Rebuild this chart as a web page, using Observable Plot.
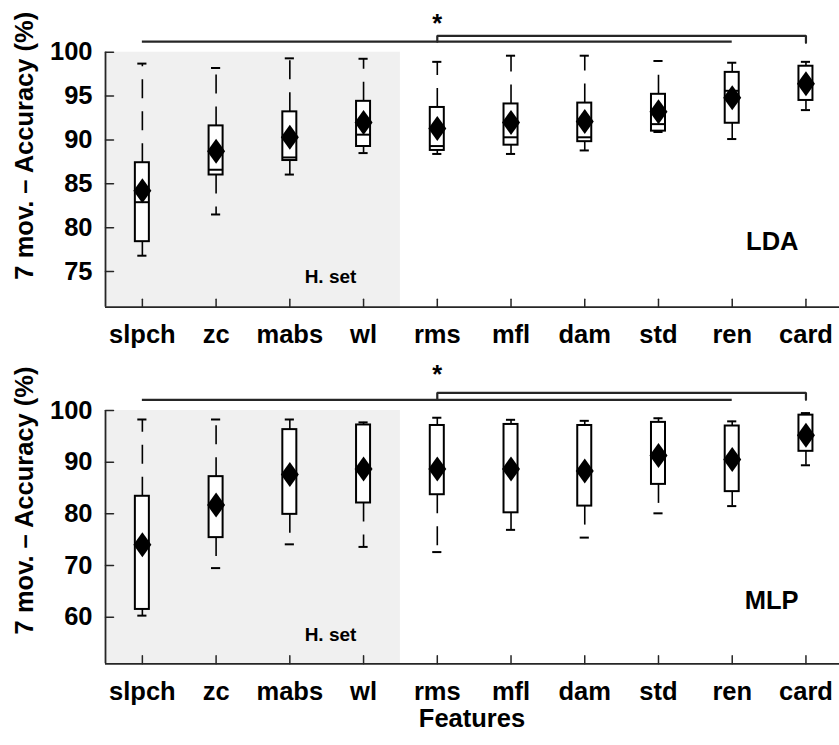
<!DOCTYPE html>
<html>
<head>
<meta charset="utf-8">
<script src="https://cdn.jsdelivr.net/npm/d3@7"></script>
<script src="https://cdn.jsdelivr.net/npm/@observablehq/plot@0.6"></script>
<style>
  html, body { margin: 0; padding: 0; background: #fff; overflow: hidden; }
  #wrap { position: relative; width: 839px; height: 745px; font-family: "Liberation Sans", Arial, sans-serif; }
  #top { position: absolute; left: 0; top: 0; }
  #bot { position: absolute; left: 0; top: 350px; }
  #xlabel { position: absolute; left: 105px; width: 734px; top: 706px; text-align: center;
            font-weight: bold; font-size: 25.5px; line-height: 24px; color: #000; }
</style>
</head>
<body>
<div id="wrap">
  <div id="top"></div>
  <div id="bot"></div>
  <div id="xlabel">Features</div>
</div>
<script>
// ---------- data ----------
const features = ["slpch", "zc", "mabs", "wl", "rms", "mfl", "dam", "std", "ren", "card"];
const handcraftedSet = ["slpch", "zc", "mabs", "wl"];

// LDA
const ldaLow    = [76.8, 81.5, 86.05, 88.5, 88.4, 88.4, 88.8, 90.9, 90.1, 93.4];
const ldaQ1     = [78.4, 86.0, 87.65, 89.25, 88.8, 89.4, 89.8, 91.0, 91.9, 94.5];
const ldaMedian = [82.9, 86.6, 88.0, 90.6, 89.3, 90.3, 90.3, 91.8, 95.6, 96.4];
const ldaQ3     = [87.4, 91.6, 93.2, 94.4, 93.7, 94.1, 94.2, 95.2, 97.7, 98.4];
const ldaHigh   = [98.7, 98.2, 99.3, 99.25, 98.9, 99.6, 99.6, 99.0, 98.8, 98.9];
const ldaMean   = [84.2, 88.7, 90.3, 92.0, 91.3, 92.0, 92.1, 93.2, 94.8, 96.4];
const ldaTicks  = [75, 80, 85, 90, 95, 100];

// MLP
const mlpLow    = [60.3, 69.5, 74.1, 73.6, 72.6, 76.9, 75.4, 80.1, 81.5, 89.4];
const mlpQ1     = [61.5, 75.4, 79.9, 82.1, 83.7, 80.2, 81.5, 85.7, 84.3, 92.1];
const mlpMedian = [73.8, 81.6, 87.5, 88.6, 88.6, 88.6, 88.2, 91.2, 90.4, 95.1];
const mlpQ3     = [83.4, 87.2, 96.3, 97.2, 97.1, 97.3, 97.1, 97.7, 97.0, 99.1];
const mlpHigh   = [98.26, 98.26, 98.26, 97.7, 98.6, 98.2, 98.0, 98.5, 97.9, 99.5];
const mlpMean   = [74.0, 81.7, 87.6, 88.7, 88.7, 88.7, 88.3, 91.3, 90.5, 95.2];
const mlpTicks  = [60, 70, 80, 90, 100];

// significance annotation: long line slpch→ren, bracket rms→card
const sigLine = ["slpch", "ren"];
const sigBracket = ["rms", "card"];
const ldaSigLevels = [101.2, 101.87, 101.07];   // long line, bracket top, bracket end
const mlpSigLevels = [102.07, 103.43, 102.07];

const yTitle = "7 mov. \u2013 Accuracy (%)";

// ---------- drawing ----------
const idx = f => features.indexOf(f) + 1;
const BOX = 0.095, CAP = 0.062;
const AX = "#262626";
const FS = 25.5;
const diamond = { draw(c) { c.moveTo(0, -12.5); c.lineTo(9, 0); c.lineTo(0, 12.5); c.lineTo(-9, 0); c.closePath(); } };
const tickShape = { draw(c, l) { c.moveTo(0, 0); c.lineTo(0, -l); } };

function panel(o) {
  const data = features.map((f, i) => ({
    f, i: i + 1, low: o.low[i], q1: o.q1[i], med: o.med[i], q3: o.q3[i], high: o.high[i], mean: o.mean[i]
  }));
  const [y0] = o.yDomain;
  const [lvLong, lvBr, lvEnd] = o.sig;
  const txt = { fontSize: FS, fontWeight: "bold", fill: "#000" };
  return Plot.plot({
    width: 839, height: o.height,
    marginLeft: 105, marginRight: 0, marginTop: o.marginTop, marginBottom: o.marginBottom,
    x: { type: "linear", domain: [0.5, 10.455] },
    y: { domain: o.yDomain },
    style: { fontFamily: "'Liberation Sans', Arial, sans-serif", fontSize: FS + "px", fontWeight: "bold", background: "transparent", overflow: "visible" },
    marks: [
      Plot.rect([0], { x1: idx(handcraftedSet[0]) - 0.5, x2: idx(handcraftedSet[handcraftedSet.length - 1]) + 0.5, y1: y0, y2: 100, fill: "#f0f0f0" }),
      Plot.text(["H. set"], { frameAnchor: "bottom-left", dx: 225, dy: o.hsetDy, fontSize: 19, fontWeight: "bold", textAnchor: "middle", lineAnchor: "bottom", fill: "#000" }),
      // whiskers
      Plot.ruleX(data, { x: "i", y1: "q3", y2: "high", stroke: "#000", strokeWidth: 1.6, strokeDasharray: "19,13" }),
      Plot.ruleX(data, { x: "i", y1: "q1", y2: "low", stroke: "#000", strokeWidth: 1.6, strokeDasharray: "19,13" }),
      Plot.ruleY(data, { y: "high", x1: d => d.i - CAP, x2: d => d.i + CAP, stroke: "#000", strokeWidth: 2 }),
      Plot.ruleY(data, { y: "low", x1: d => d.i - CAP, x2: d => d.i + CAP, stroke: "#000", strokeWidth: 2 }),
      // boxes
      Plot.rect(data, { x1: d => d.i - BOX, x2: d => d.i + BOX, y1: "q1", y2: "q3", fill: "#fff", stroke: "#000", strokeWidth: 2 }),
      Plot.ruleY(data, { y: "med", x1: d => d.i - BOX, x2: d => d.i + BOX, stroke: "#000", strokeWidth: 2 }),
      Plot.dot(data, { x: "i", y: "mean", symbol: diamond, fill: "#000", stroke: "none" }),
      // axes lines
      Plot.ruleX([0.5], { stroke: AX, strokeWidth: 1.8 }),
      Plot.ruleY([y0], { stroke: AX, strokeWidth: 1.8 }),
      Plot.vector(o.ticks, { y: d => d, frameAnchor: "left", length: 8, rotate: 90, anchor: "start", shape: tickShape, stroke: AX, strokeWidth: 1.5 }),
      Plot.vector(d3.range(1, 11), { x: d => d, frameAnchor: "bottom", length: 8, rotate: 0, anchor: "start", shape: tickShape, stroke: AX, strokeWidth: 1.5 }),
      Plot.axisY({ ticks: o.ticks, tickSize: 0, tickPadding: 13, label: null, ...txt }),
      Plot.axisX({ ticks: d3.range(1, 11), tickSize: 0, tickPadding: 18, label: null, tickFormat: i => features[i - 1], ...txt }),
      Plot.text([yTitle], { frameAnchor: "left", dx: -81, dy: o.titleDy, rotate: -90, textAnchor: "middle", ...txt }),
      Plot.text([o.name], { frameAnchor: "bottom-right", dx: -41, dy: o.nameDy, textAnchor: "end", lineAnchor: "bottom", letterSpacing: "-2px", ...txt }),
      // significance
      Plot.ruleY([lvLong], { x1: idx(sigLine[0]), x2: idx(sigLine[1]), stroke: AX, strokeWidth: 2.2 }),
      Plot.line([[idx(sigBracket[0]), lvLong], [idx(sigBracket[0]), lvBr], [idx(sigBracket[1]), lvBr], [idx(sigBracket[1]), lvEnd]],
        { x: d => d[0], y: d => d[1], stroke: AX, strokeWidth: 2.2, strokeLinejoin: "miter", curve: "linear" }),
      Plot.text(["*"], { x: idx(sigBracket[0]), frameAnchor: "top", dy: o.starDy, textAnchor: "middle", ...txt })
    ]
  });
}

document.getElementById("top").append(panel({
  low: ldaLow, q1: ldaQ1, med: ldaMedian, q3: ldaQ3, high: ldaHigh, mean: ldaMean,
  ticks: ldaTicks, yDomain: [70.93, 100], sig: ldaSigLevels, name: "LDA",
  height: 350, marginTop: 51.7, marginBottom: 43.3,
  titleDy: -34, nameDy: -57.7, hsetDy: -24.4, starDy: -38
}));
document.getElementById("bot").append(panel({
  low: mlpLow, q1: mlpQ1, med: mlpMedian, q3: mlpQ3, high: mlpHigh, mean: mlpMean,
  ticks: mlpTicks, yDomain: [50.98, 100], sig: mlpSigLevels, name: "MLP",
  height: 355, marginTop: 60, marginBottom: 41.7,
  titleDy: -36.7, nameDy: -55.3, hsetDy: -22.6, starDy: -45.5
}));
</script>
</body>
</html>
